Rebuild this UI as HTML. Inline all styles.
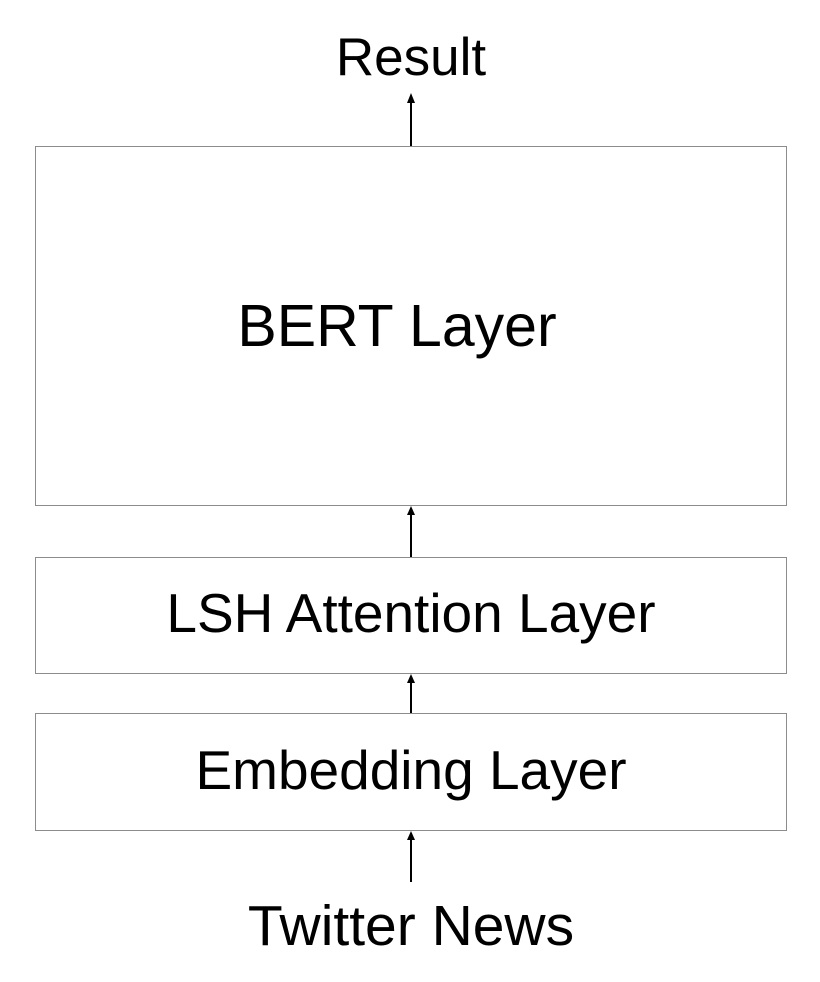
<!DOCTYPE html>
<html><head><style>
html,body{margin:0;padding:0;background:#fff}
svg{display:block}
text{font-family:"Liberation Sans",sans-serif;fill:#000;text-anchor:middle}
</style></head><body>
<svg width="820" height="982" viewBox="0 0 820 982">
<rect x="35.5" y="146.5" width="751" height="359" fill="#fff" stroke="#8c8c8c" stroke-width="1"/>
<rect x="35.5" y="557.5" width="751" height="116" fill="#fff" stroke="#8c8c8c" stroke-width="1"/>
<rect x="35.5" y="713.5" width="751" height="117" fill="#fff" stroke="#8c8c8c" stroke-width="1"/>
<g stroke="#000" stroke-width="2">
<line x1="411" y1="146" x2="411" y2="100"/>
<line x1="411" y1="557" x2="411" y2="512"/>
<line x1="411" y1="713" x2="411" y2="680"/>
<line x1="411" y1="882" x2="411" y2="837"/>
</g>
<g fill="#000">
<polygon points="411,93 407,103 415,103"/>
<polygon points="411,506 407,515 415,515"/>
<polygon points="411,674 407,683 415,683"/>
<polygon points="411,831 407,840 415,840"/>
</g>
<text x="411" y="75" font-size="53">Result</text>
<text x="397" y="346" font-size="59">BERT Layer</text>
<text x="411" y="632" font-size="55">LSH Attention Layer</text>
<text x="411" y="789" font-size="55">Embedding Layer</text>
<text x="411" y="945" font-size="57">Twitter News</text>
</svg>
</body></html>
